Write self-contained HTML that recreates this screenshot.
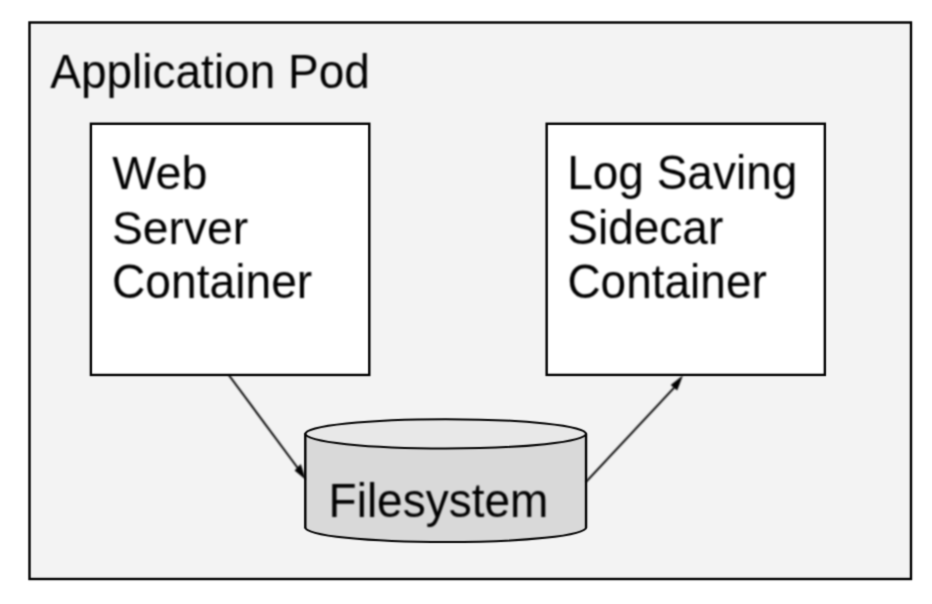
<!DOCTYPE html>
<html lang="en">
<head>
<meta charset="utf-8">
<title>Application Pod</title>
<style>
  html, body { margin: 0; padding: 0; background: #ffffff; }
  body { width: 932px; height: 604px; overflow: hidden; }
  svg { display: block; }
  text { font-family: "Liberation Sans", sans-serif; font-size: 46px; fill: #000000; }
</style>
</head>
<body>
<svg width="932" height="604" viewBox="0 0 932 604">
  <defs>
    <filter id="soft" x="0" y="0" width="932" height="604" filterUnits="userSpaceOnUse" color-interpolation-filters="sRGB">
      <feConvolveMatrix order="3" kernelMatrix="1 4 1 4 16 4 1 4 1" edgeMode="duplicate" preserveAlpha="false"/>
    </filter>
    <filter id="softer2" x="0" y="0" width="932" height="604" filterUnits="userSpaceOnUse" color-interpolation-filters="sRGB">
      <feConvolveMatrix order="3" kernelMatrix="1 2 1 2 4 2 1 2 1" edgeMode="duplicate" preserveAlpha="false"/>
    </filter>
    <filter id="softer" x="-5%" y="-15%" width="110%" height="130%" color-interpolation-filters="sRGB">
      <feConvolveMatrix order="5" kernelMatrix="0 0 0 0 0 0 1 2 1 0 0 2 4 2 0 0 1 2 1 0 0 0 0 0 0" edgeMode="duplicate" preserveAlpha="false"/>
    </filter>
  </defs>
  <g filter="url(#soft)">
    <rect x="0" y="0" width="932" height="604" fill="#ffffff"/>
    <!-- Pod -->
    <rect x="29.50" y="22.50" width="881.50" height="556.50" fill="#f3f3f3" stroke="#000000" stroke-width="2.4"/>
    <text transform="matrix(1.0 0 0 1.025 50.30 87.50)" filter="url(#softer)">Application Pod</text>

    <!-- Web server container -->
    <rect x="90.90" y="123.75" width="278.40" height="251.20" fill="#ffffff" stroke="#000000" stroke-width="2.4"/>
    <text transform="matrix(1.015 0 0 1.025 112.30 189.30)" filter="url(#softer)">Web</text>
    <text transform="matrix(1.005 0 0 1.025 111.90 244.30)" filter="url(#softer)">Server</text>
    <text transform="matrix(1.004 0 0 1.025 112.00 298.30)" filter="url(#softer)">Container</text>

    <!-- Log saving sidecar container -->
    <rect x="546.65" y="123.75" width="278.20" height="251.15" fill="#ffffff" stroke="#000000" stroke-width="2.4"/>
    <text transform="matrix(1.0 0 0 1.025 567.20 189.20)" filter="url(#softer)">Log Saving</text>
    <text transform="matrix(1.0 0 0 1.025 567.30 243.70)" filter="url(#softer)">Sidecar</text>
    <text transform="matrix(1.0 0 0 1.025 567.40 298.30)" filter="url(#softer)">Container</text>

    <!-- Filesystem cylinder -->
    <path d="M305.30 433.85 A140.37 14.65 0 0 1 586.05 433.85 L586.05 527.45 A140.37 14.65 0 0 1 305.30 527.45 Z" fill="#d9d9d9"/>
    <ellipse cx="445.67" cy="433.85" rx="140.37" ry="14.65" fill="#e8e8e8" stroke="#000000" stroke-width="2.0"/>
    <path d="M305.30 527.45 A140.37 14.65 0 0 0 586.05 527.45" fill="none" stroke="#000000" stroke-width="2.0"/>
    <path d="M305.30 433.85 V527.45 M586.05 433.85 V527.45" fill="none" stroke="#000000" stroke-width="2.4" stroke-linecap="round"/>
    <text transform="matrix(1.0 0 0 1.025 328.60 516.70)" filter="url(#softer)">Filesystem</text>

    <!-- Arrows -->
    <g filter="url(#softer2)">
    <line x1="228.75" y1="374.95" x2="298.50" y2="468.98" stroke="#000000" stroke-width="1.9"/>
    <polygon points="306.00,480.00 300.80,463.90 294.60,470.60" fill="#000000"/>
    <line x1="586.05" y1="481.90" x2="674.20" y2="387.55" stroke="#000000" stroke-width="1.9"/>
    <polygon points="683.00,375.20 670.70,384.90 677.20,390.60" fill="#000000"/>
    </g>
  </g>
</svg>
</body>
</html>
